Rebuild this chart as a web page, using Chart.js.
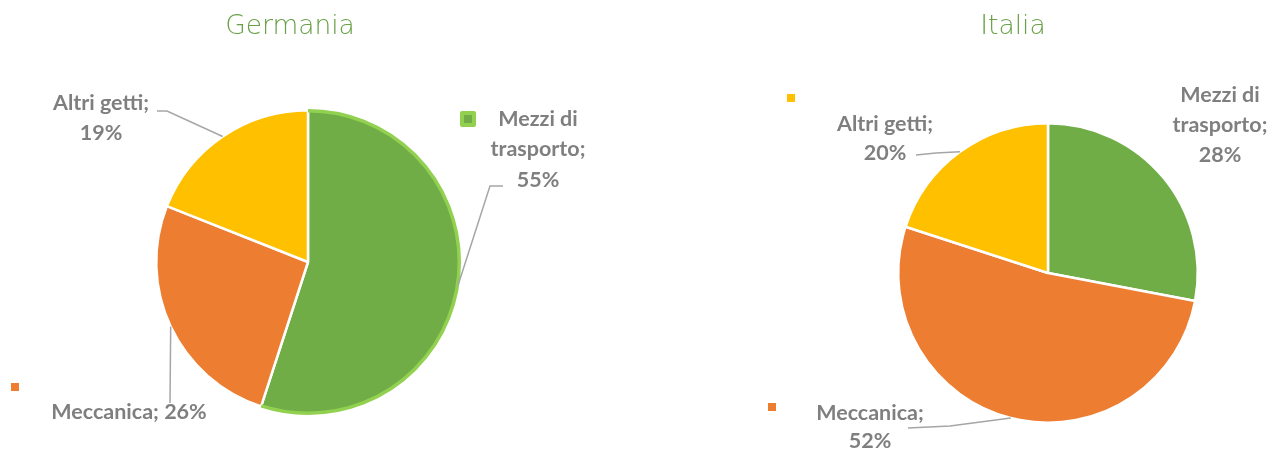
<!DOCTYPE html>
<html>
<head>
<meta charset="utf-8">
<script src="https://cdn.jsdelivr.net/npm/chart.js@4/dist/chart.umd.min.js"></script>
<style>
  html, body { margin: 0; padding: 0; background: #fff; }
  .pannello { position: absolute; top: 0; height: 453px; }
  #pan-de { left: 0; width: 636px; }
  #pan-it { left: 636px; width: 635px; }
</style>
</head>
<body>
<div class="pannello" id="pan-de"><canvas id="chart-germania"></canvas></div>
<div class="pannello" id="pan-it"><canvas id="chart-italia"></canvas></div>
<script>
// Ripartizione dei getti per settore di destinazione
var categorie = ['Mezzi di trasporto', 'Meccanica', 'Altri getti'];
var germania = [55, 26, 19];
var italia = [28, 52, 20];

var colori = ['#70ad47', '#ed7d31', '#ffc000'];
var grigio = '#7f7f7f';
var fontEtichette = 'bold 21.5px Lato, "Open Sans", sans-serif';

// testo delle etichette: "categoria; valore%" spezzato su più righe come nell'originale
function righe(testo, valore, modo) {
  if (modo === 'una') return [testo + '; ' + valore + '%'];
  if (modo === 'tre') {
    var parti = testo.split(' ');
    return [parti.slice(0, 2).join(' '), parti.slice(2).join(' ') + ';', valore + '%'];
  }
  return [testo + ';', valore + '%'];
}

// posizione delle etichette (coordinate del pannello), gomito della linea guida, quadratino
var layoutDe = [
  { modo: 'tre', x: 538, y: 119, passo: 30.5, guida: [[503, 186], [490, 186]], marker: { x: 468, y: 119, s: 14, bordo: true } },
  { modo: 'una', x: 129, y: 412, passo: 30, guida: [[170, 403]], marker: { x: 15, y: 387, s: 8 } },
  { modo: 'due', x: 101, y: 103, passo: 30, guida: [[157, 111], [167, 111]], marker: null },
];
var layoutIt = [
  { modo: 'tre', x: 584, y: 95, passo: 30, guida: null, marker: null },
  { modo: 'due', x: 234, y: 413, passo: 28, guida: [[272, 428], [314, 426]], marker: { x: 136, y: 407, s: 8 } },
  { modo: 'due', x: 249, y: 124, passo: 29, guida: [[280, 155], [300, 153]], marker: { x: 155, y: 98, s: 8 } },
];

var pluginEtichette = {
  id: 'etichette',
  afterDatasetsDraw: function (chart, args, opts) {
    var ctx = chart.ctx;
    var meta = chart.getDatasetMeta(0);
    var valori = chart.data.datasets[0].data;
    ctx.save();

    // bordo evidenziato della fetta selezionata
    if (opts.evidenzia != null) {
      var a = meta.data[opts.evidenzia].getProps(['x', 'y', 'startAngle', 'endAngle', 'outerRadius'], true);
      ctx.beginPath();
      ctx.arc(a.x, a.y, a.outerRadius - 0.5, a.startAngle, a.endAngle);
      ctx.strokeStyle = '#92d050';
      ctx.lineWidth = 3.5;
      ctx.stroke();
    }

    opts.layout.forEach(function (l, i) {
      var arc = meta.data[i].getProps(['x', 'y', 'startAngle', 'endAngle', 'outerRadius'], true);
      var medio = (arc.startAngle + arc.endAngle) / 2;
      var px = arc.x + Math.cos(medio) * arc.outerRadius;
      var py = arc.y + Math.sin(medio) * arc.outerRadius;

      if (l.guida) {
        ctx.beginPath();
        ctx.moveTo(px, py);
        for (var k = l.guida.length - 1; k >= 0; k--) ctx.lineTo(l.guida[k][0], l.guida[k][1]);
        ctx.strokeStyle = '#a6a6a6';
        ctx.lineWidth = 1.5;
        ctx.stroke();
      }

      if (l.marker) {
        var m = l.marker;
        if (m.bordo) {
          ctx.fillStyle = '#92d050';
          ctx.beginPath();
          ctx.roundRect(m.x - m.s / 2 - 1, m.y - m.s / 2 - 1, m.s + 2, m.s + 2, 2);
          ctx.fill();
          ctx.fillStyle = colori[i];
          ctx.fillRect(m.x - m.s / 2 + 3, m.y - m.s / 2 + 3, m.s - 6, m.s - 6);
        } else {
          ctx.fillStyle = colori[i];
          ctx.fillRect(m.x - m.s / 2, m.y - m.s / 2, m.s, m.s);
        }
      }

      ctx.font = fontEtichette;
      ctx.fillStyle = grigio;
      ctx.textAlign = 'center';
      ctx.textBaseline = 'middle';
      righe(categorie[i], valori[i], l.modo).forEach(function (r, j) {
        ctx.fillText(r, l.x, l.y + j * l.passo);
      });
    });

    // titolo
    ctx.font = '200 26.5px "DejaVu Sans", Lato, sans-serif';
    ctx.fillStyle = '#68a046';
    ctx.textAlign = 'center';
    ctx.textBaseline = 'middle';
    ctx.fillText(opts.titolo, opts.titoloX, 27);
    ctx.restore();
  },
};

function torta(id, valori, padding, layout, titolo, titoloX, evidenzia) {
  return new Chart(document.getElementById(id).getContext('2d'), {
    type: 'pie',
    data: {
      labels: categorie,
      datasets: [{
        data: valori,
        backgroundColor: colori,
        borderColor: '#ffffff',
        borderWidth: 2.5,
      }],
    },
    options: {
      responsive: true,
      maintainAspectRatio: false,
      animation: false,
      layout: { padding: padding },
      plugins: {
        legend: { display: false },
        tooltip: { enabled: false },
        etichette: { layout: layout, titolo: titolo, titoloX: titoloX, evidenzia: evidenzia },
      },
    },
    plugins: [pluginEtichette],
  });
}

torta('chart-germania', germania, { top: 109, bottom: 38, left: 155, right: 175 }, layoutDe, 'Germania', 290, 0);
torta('chart-italia', italia, { top: 122, bottom: 29, left: 261, right: 72 }, layoutIt, 'Italia', 377, null);
</script>
</body>
</html>
